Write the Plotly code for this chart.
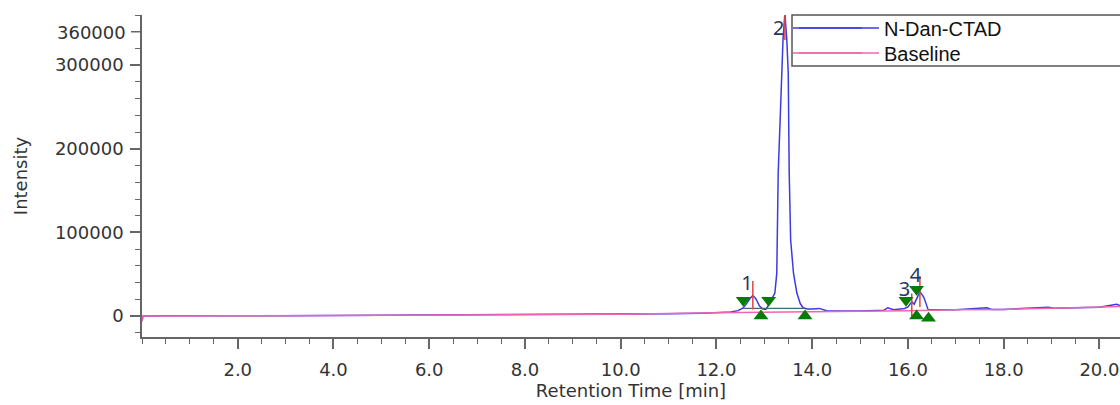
import plotly.graph_objects as go

# ---- data ----
time_min = [0.0, 0.02, 0.5, 1.0, 1.4, 1.6, 2.0, 3.0, 4.0, 5.0, 6.0, 7.0, 7.7, 8.0, 8.5, 9.0,
            10.0, 11.0, 11.7, 12.0, 12.3, 12.45, 12.55, 12.62, 12.7, 12.76, 12.82, 12.9,
            12.97, 13.03, 13.1, 13.17, 13.22, 13.26, 13.29, 13.34, 13.39, 13.43, 13.47,
            13.5, 13.52, 13.55, 13.61, 13.68, 13.75, 13.81, 13.9, 14.0, 14.15, 14.3, 15.0,
            15.5, 15.58, 15.7, 15.93, 16.0, 16.08, 16.13, 16.2, 16.25, 16.33, 16.42, 16.5,
            17.0, 17.65, 17.75, 18.0, 18.93, 19.05, 20.0, 20.36, 20.43]
intensity = [-6000, 0, 300, 300, -300, 200, 300, 500, 800, 1000, 1200, 1500, 2300, 1800, 2300,
             2000, 2300, 2800, 3500, 4000, 4800, 6500, 9500, 14000, 21000, 24500, 21000, 12000,
             8500, 8000, 14000, 22000, 27500, 51000, 171000, 250000, 330000, 362000, 330000,
             290000, 171000, 91000, 51000, 27500, 15000, 10000, 8500, 8500, 9200, 6300, 6000,
             7000, 10000, 7500, 9200, 11000, 17000, 14300, 24000, 29000, 22700, 8000, 7500,
             7500, 10000, 8000, 8000, 10500, 9500, 10500, 14000, 12500]

baseline_time = [0.0, 0.02, 4.0, 8.0, 10.0, 12.0, 13.0, 14.0, 15.0, 16.0, 17.0, 18.0, 19.0, 20.0, 20.43]
baseline_int = [-6000, 0, 800, 1800, 2300, 4000, 4500, 5500, 6000, 6500, 7500, 8000, 9500, 10500, 11500]

peak_ids = ["1", "2", "3", "4"]
apex_time = [12.76, 13.43, 16.08, 16.25]
apex_line_low = [8000, 330000, -800, 11000]
apex_line_high = [42000, 362000, 27000, 48000]
label_time = [12.64, 13.30, 15.93, 16.16]
label_int = [37000, 341800, 30200, 47000]

start_mark_time = [12.56, 13.09, 15.96, 16.18]
start_mark_int = [19000, 19000, 19000, 32000]
end_mark_time = [12.93, 13.85, 16.18, 16.43]
end_mark_int = [0, 0, 0, -2700]

integ_time = [12.56, 13.85]
integ_int = [9200, 9200]

y_tick_vals = [0, 100000, 200000, 300000]
y_tick_text = ["0", "100000", "200000", "300000"]
y_top_label = "360000"
x_tick_vals = [2, 4, 6, 8, 10, 12, 14, 16, 18, 20]
x_tick_text = ["2.0", "4.0", "6.0", "8.0", "10.0", "12.0", "14.0", "16.0", "18.0", "20.0"]

X_RANGE = [0, 20.43]
Y_RANGE = [-25000, 360000]

BLUE = "#3b3be0"
PINK = "#f065b0"
AXIS_COLOR = "#666666"
TEXT_COLOR = "#333333"
PLOT_W, PLOT_H = 978, 322
TICK_FONT = dict(family="DejaVu Sans", size=18, color=TEXT_COLOR)

fig = go.Figure()

fig.add_trace(go.Scatter(x=time_min, y=intensity, mode="lines", name="N-Dan-CTAD",
                         legend="legend", line=dict(color=BLUE, width=1.5)))
fig.add_trace(go.Scatter(x=baseline_time, y=baseline_int, mode="lines", name="Baseline",
                         legend="legend2", line=dict(color=PINK, width=1.5)))

# integration baseline
fig.add_trace(go.Scatter(x=integ_time, y=integ_int, mode="lines", showlegend=False,
                         line=dict(color="#3d6b7a", width=1.3), hoverinfo="skip"))

# red apex markers
rx, ry = [], []
for t, lo, hi in zip(apex_time, apex_line_low, apex_line_high):
    rx += [t, t, None]
    ry += [lo, hi, None]
fig.add_trace(go.Scatter(x=rx, y=ry, mode="lines", showlegend=False,
                         line=dict(color="#e8423c", width=1.5), hoverinfo="skip"))

# peak start / end triangles
fig.add_trace(go.Scatter(x=start_mark_time, y=start_mark_int, mode="markers", showlegend=False,
                         marker=dict(symbol="triangle-down", size=13, color="#087a08"),
                         cliponaxis=False))
fig.add_trace(go.Scatter(x=end_mark_time, y=end_mark_int, mode="markers", showlegend=False,
                         marker=dict(symbol="triangle-up", size=13, color="#087a08"),
                         cliponaxis=False))

# peak numbers
fig.add_trace(go.Scatter(x=label_time, y=label_int, mode="text", text=peak_ids,
                         showlegend=False, cliponaxis=False,
                         textfont=dict(family="Noto Sans", size=20, color="#1f3864")))

legend_common = dict(xanchor="left", yanchor="middle", bgcolor="rgba(0,0,0,0)", borderwidth=0,
                     font=dict(family="Liberation Sans", size=20, color="#111111"),
                     itemwidth=80)

fig.update_layout(
    width=1120, height=405,
    margin=dict(l=142, r=0, t=15, b=68),
    paper_bgcolor="white", plot_bgcolor="white",
    font=dict(family="DejaVu Sans", size=18, color=TEXT_COLOR),
    showlegend=True,
    legend=dict(x=(794 - 142) / PLOT_W, y=1 - (28 - 15) / PLOT_H, **legend_common),
    legend2=dict(x=(794 - 142) / PLOT_W, y=1 - (53 - 15) / PLOT_H, **legend_common),
    xaxis=dict(range=X_RANGE, showgrid=False, zeroline=False,
               showline=True, linecolor=AXIS_COLOR, linewidth=1.5,
               ticks="outside", ticklen=10, tickcolor=AXIS_COLOR, tickwidth=1.5,
               tickvals=x_tick_vals, ticktext=x_tick_text, ticklabelstandoff=6,
               tickfont=TICK_FONT,
               minor=dict(dtick=0.5, tick0=0, ticks="outside", ticklen=5,
                          tickcolor=AXIS_COLOR, tickwidth=1.2),
               title=dict(text="Retention Time [min]", standoff=4,
                          font=dict(family="DejaVu Sans", size=18, color=TEXT_COLOR))),
    yaxis=dict(range=Y_RANGE, showgrid=False, zeroline=False,
               showline=True, linecolor=AXIS_COLOR, linewidth=1.5,
               ticks="outside", ticklen=10, tickcolor=AXIS_COLOR, tickwidth=1.5,
               tickvals=y_tick_vals, ticktext=y_tick_text, tickfont=TICK_FONT,
               ticklabelstandoff=3,
               minor=dict(dtick=20000, tick0=0, ticks="outside", ticklen=5,
                          tickcolor=AXIS_COLOR, tickwidth=1.2),
               title=dict(text="Intensity", standoff=23,
                          font=dict(family="DejaVu Sans", size=18, color=TEXT_COLOR))),
)

# top-of-axis label as drawn by the instrument software
fig.add_annotation(xref="paper", yref="y", x=0, y=Y_RANGE[1], text=y_top_label,
                   showarrow=False, xanchor="right", yanchor="middle",
                   xshift=-14, yshift=-17, font=TICK_FONT)
fig.add_shape(type="line", xref="paper", yref="y", x0=-11 / PLOT_W, x1=0,
              y0=340000, y1=340000, line=dict(color=AXIS_COLOR, width=1.5))

# legend frame (runs off the right edge as in the reference)
fig.add_shape(type="rect", xref="paper", yref="paper",
              x0=(792 - 142) / PLOT_W, x1=1.02, y0=1 - (66 - 15) / PLOT_H, y1=1,
              line=dict(color="#555555", width=1.5), fillcolor="white", layer="above")
# longer legend line samples, as in the reference
fig.add_shape(type="line", xref="paper", yref="paper",
              x0=(793 - 142) / PLOT_W, x1=(862 - 142) / PLOT_W,
              y0=1 - (28 - 15) / PLOT_H, y1=1 - (28 - 15) / PLOT_H,
              line=dict(color=BLUE, width=1.5), layer="above")
fig.add_shape(type="line", xref="paper", yref="paper",
              x0=(793 - 142) / PLOT_W, x1=(862 - 142) / PLOT_W,
              y0=1 - (53 - 15) / PLOT_H, y1=1 - (53 - 15) / PLOT_H,
              line=dict(color=PINK, width=1.5), layer="above")

fig.write_html("out.html")
